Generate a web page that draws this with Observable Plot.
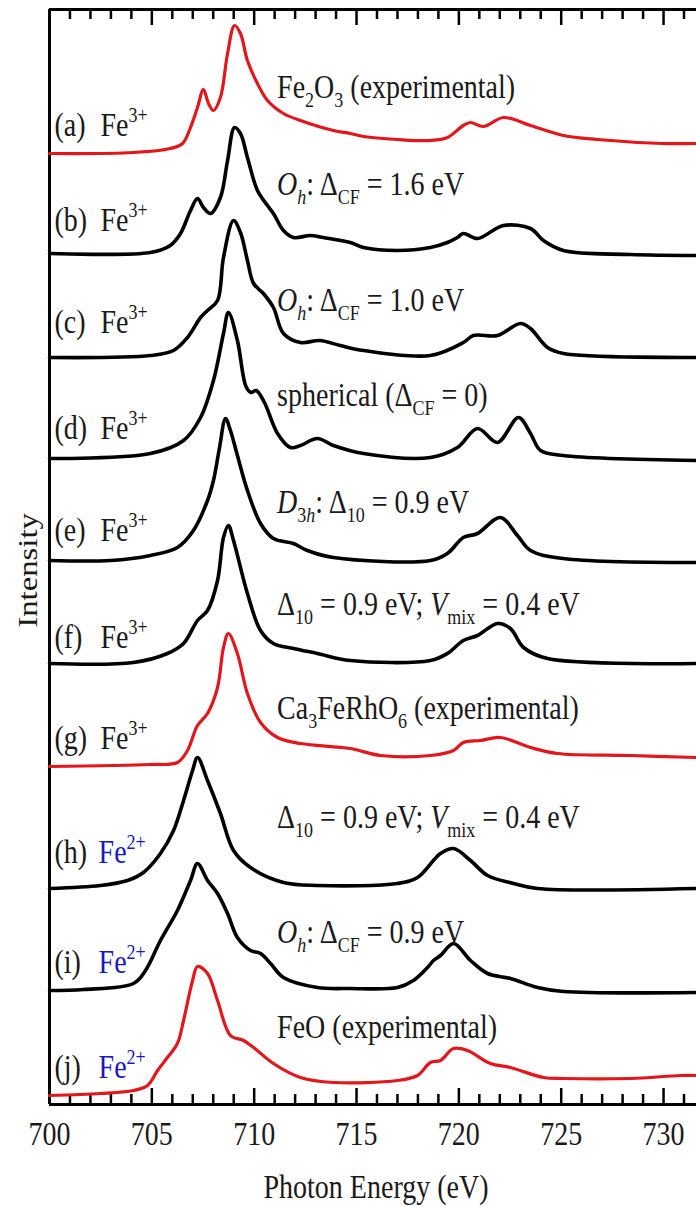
<!DOCTYPE html>
<html>
<head>
<meta charset="utf-8">
<script src="https://cdn.jsdelivr.net/npm/d3@7"></script>
<script src="https://cdn.jsdelivr.net/npm/@observablehq/plot@0.6"></script>
<style>
html, body { margin: 0; padding: 0; background: #fff; }
#chart svg { display: block; }
</style>
</head>
<body>
<div id="chart"></div>
<script>
// ---------- data (photon energy in eV, intensity relative to each baseline) ----------
const spectrumA = [[700,0],[704.1,0.01],[705.9,0.05],[706.5,0.10],[706.89,0.26],[707.23,0.46],[707.52,0.64],[707.77,0.50],[708.01,0.43],[708.35,0.56],[708.7,1.0],[709.04,1.28],[709.33,1.2],[709.67,0.93],[710.16,0.7],[710.65,0.53],[711.43,0.4],[712.26,0.33],[713.87,0.23],[714.7,0.2],[715.34,0.17],[717.0,0.14],[718.61,0.13],[719.44,0.16],[720.22,0.28],[720.57,0.31],[721.2,0.27],[722.18,0.36],[723.5,0.28],[725.11,0.18],[726.77,0.14],[729.99,0.1],[731.61,0.1]];
const spectrumB = [[700,0],[704.93,0.01],[705.9,0.08],[706.4,0.2],[706.89,0.43],[707.23,0.55],[707.52,0.46],[707.87,0.40],[708.35,0.56],[708.7,0.93],[709.04,1.26],[709.33,1.2],[709.67,0.96],[710.16,0.63],[710.65,0.48],[710.94,0.4],[711.43,0.23],[711.92,0.16],[712.75,0.18],[713.38,0.16],[714.7,0.11],[715.34,0.06],[717.0,0.03],[718.61,0.06],[719.44,0.11],[719.93,0.16],[720.22,0.2],[720.91,0.15],[722.18,0.28],[723.5,0.25],[724.13,0.13],[725.11,0.03],[728.38,-0.01],[731.61,-0.02]];
const spectrumC = [[700,0],[704.93,0.02],[706.06,0.07],[706.74,0.2],[707.38,0.4],[707.72,0.47],[708.21,0.57],[708.5,1.0],[708.99,1.37],[709.33,1.25],[709.67,0.97],[709.97,0.74],[710.45,0.64],[710.94,0.5],[711.43,0.24],[712.26,0.15],[713.2,0.17],[714.2,0.12],[715.34,0.07],[718.61,0.02],[720.22,0.15],[720.71,0.22],[721.89,0.22],[723.01,0.34],[723.5,0.29],[724.33,0.1],[725.11,0.04],[731.61,0]];
const spectrumD = [[700,0],[704.93,0.05],[706.55,0.18],[707.38,0.41],[708.01,0.78],[708.5,1.25],[708.74,1.46],[709.18,1.18],[709.6,0.72],[709.85,0.66],[710.1,0.68],[710.5,0.56],[711.14,0.25],[711.77,0.11],[712.26,0.13],[713.09,0.2],[713.87,0.13],[715.34,0.05],[718.61,0.01],[719.93,0.11],[720.91,0.3],[721.89,0.16],[722.91,0.41],[723.5,0.25],[723.99,0.08],[725.11,0.03],[731.61,-0.02]];
const spectrumE = [[700,0],[702.98,0],[704.93,0.05],[706.25,0.13],[707.03,0.3],[707.72,0.6],[708.01,0.8],[708.3,1.12],[708.6,1.42],[708.84,1.3],[709.18,1.05],[709.67,0.7],[710.31,0.37],[710.94,0.22],[711.92,0.17],[712.6,0.1],[713.87,0.03],[718.61,0],[719.44,0.07],[720.22,0.23],[720.91,0.27],[722.03,0.43],[722.86,0.25],[723.5,0.1],[725.11,0.02],[731.61,-0.02]];
const spectrumF = [[700,0],[704.1,0.01],[705.76,0.1],[706.55,0.2],[707.23,0.43],[707.72,0.53],[708.21,0.83],[708.5,1.26],[708.74,1.38],[708.99,1.23],[709.67,0.7],[710.31,0.33],[710.94,0.2],[711.92,0.15],[713.09,0.1],[714.7,0.03],[718.61,0.03],[719.44,0.1],[720.22,0.23],[720.91,0.28],[721.89,0.4],[722.52,0.35],[723.16,0.16],[724.33,0.05],[731.61,0]];
const spectrumG = [[700,0],[704.93,0.02],[706.25,0.04],[706.74,0.16],[707.23,0.41],[707.72,0.53],[708.21,0.79],[708.5,1.19],[708.74,1.33],[709.18,1.13],[709.67,0.73],[710.31,0.44],[711.14,0.29],[712.26,0.23],[714.7,0.18],[716.17,0.11],[718.61,0.11],[719.74,0.16],[720.22,0.24],[721.06,0.26],[722.03,0.29],[723.5,0.19],[724.82,0.13],[728.38,0.11],[731.61,0.09]];
const spectrumH = [[700,0],[702.49,0.03],[703.81,0.08],[704.59,0.16],[705.42,0.35],[706.06,0.58],[706.55,0.88],[706.99,1.18],[707.23,1.31],[707.72,1.08],[708.35,0.75],[708.99,0.38],[709.82,0.21],[711.43,0.06],[713.09,0.03],[717.0,0.05],[717.98,0.11],[719.1,0.35],[719.74,0.4],[720.57,0.28],[721.4,0.13],[722.67,0.05],[723.84,0],[731.61,0]];
const spectrumI = [[700,0],[701.66,0.01],[704.1,0.07],[704.69,0.2],[705.42,0.5],[706.25,0.8],[706.89,1.1],[707.23,1.27],[707.72,1.1],[708.21,0.97],[708.7,0.77],[709.18,0.53],[709.82,0.4],[710.31,0.37],[710.8,0.27],[711.43,0.13],[713.09,0.03],[714.7,0.02],[717.0,0.03],[717.78,0.1],[718.47,0.23],[718.76,0.3],[719.1,0.35],[719.74,0.47],[720.57,0.3],[721.4,0.17],[722.52,0.12],[723.84,0.03],[725.11,-0.01],[731.61,-0.02]];
const spectrumJ = [[700,0],[702.49,0.02],[704.1,0.05],[704.79,0.1],[705.28,0.25],[705.76,0.38],[706.25,0.52],[706.55,0.75],[706.99,1.15],[707.23,1.29],[707.72,1.22],[708.21,0.95],[708.84,0.6],[709.48,0.55],[709.97,0.48],[710.94,0.32],[712.26,0.18],[713.87,0.13],[717.0,0.15],[717.98,0.2],[718.61,0.33],[719.1,0.35],[719.74,0.47],[720.42,0.45],[721.54,0.32],[722.52,0.28],[724.13,0.18],[725.11,0.17],[728.38,0.17],[730.83,0.2],[731.61,0.2]];

const spectra = [spectrumA, spectrumB, spectrumC, spectrumD, spectrumE, spectrumF, spectrumG, spectrumH, spectrumI, spectrumJ];
// vertical offset of each spectrum (intensity units)
const offsets = [9.51, 8.51, 7.47, 6.46, 5.44, 4.41, 3.38, 2.16, 1.14, 0.09];
const experimental = [true, false, false, false, false, false, true, false, false, true];
const letters = ["(a)", "(b)", "(c)", "(d)", "(e)", "(f)", "(g)", "(h)", "(i)", "(j)"];
const ions = ["3+", "3+", "3+", "3+", "3+", "3+", "3+", "2+", "2+", "2+"];
const notes = [
  "Fe_{2}O_{3} (experimental)",
  "*O*_{*h*}:\u2009Δ_{CF} = 1.6 eV",
  "*O*_{*h*}:\u2009Δ_{CF} = 1.0 eV",
  "spherical (Δ_{CF} = 0)",
  "*D*_{3*h*}:\u2009Δ_{10} = 0.9 eV",
  "Δ_{10} = 0.9 eV; *V*_{mix} = 0.4 eV",
  "Ca_{3}FeRhO_{6} (experimental)",
  "Δ_{10} = 0.9 eV; *V*_{mix} = 0.4 eV",
  "*O*_{*h*}:\u2009Δ_{CF} = 0.9 eV",
  "FeO (experimental)"
];
// label heights above each baseline (intensity units)
const tagLevel = [0.28, 0.33, 0.35, 0.30, 0.30, 0.26, 0.28, 0.36, 0.28, 0.28];
const noteLevel = [0.66, 0.69, 0.57, 0.63, 0.58, 0.59, 0.58, 0.71, 0.58, 0.68];
const majorTicks = [700, 705, 710, 715, 720, 725, 730];
const minorTicks = d3.range(700, 732, 1);
const xLabel = "Photon Energy (eV)";
const yLabel = "Intensity";

// ---------- layout ----------
const W = 696, H = 1207;
const MT = 9, MB = 103, ML = 49, MR = 0;
const X_DOMAIN = [700, 731.61];
const Y_MAX = 10.95;
const unitPerPx = Y_MAX / (H - MT - MB);
const RED = "#e3161b", BLACK = "#000000", BLUE = "#1818c0", TEXT = "#1a1a1a";
const FONT = "'Liberation Serif', 'Times New Roman', Times, serif";
const FS = 28;

const marks = [];
// frame (top, bottom, left)
marks.push(Plot.ruleY([0, Y_MAX], {stroke: BLACK, strokeWidth: 3}));
marks.push(Plot.ruleX([700], {stroke: BLACK, strokeWidth: 3}));
// inward ticks
const tick = (vals, len) => [
  Plot.ruleX(vals, {x: d => d, y1: 0, y2: len * unitPerPx, stroke: BLACK, strokeWidth: 2.5}),
  Plot.ruleX(vals, {x: d => d, y1: Y_MAX, y2: Y_MAX - len * unitPerPx, stroke: BLACK, strokeWidth: 2.5})
];
marks.push(...tick(minorTicks.filter(d => d % 5 !== 0), 10));
marks.push(...tick(majorTicks, 16));

// spectra
spectra.forEach((s, k) => {
  marks.push(Plot.line(s, {
    x: d => d[0], y: d => offsets[k] + d[1],
    stroke: experimental[k] ? RED : BLACK,
    strokeWidth: experimental[k] ? 3.2 : 3.6,
    strokeLinejoin: "round", strokeLinecap: "round",
    curve: "catmull-rom"
  }));
});

const idx = d3.range(spectra.length);
// letter tags
marks.push(Plot.text(idx, {x: () => 700.24, y: k => offsets[k] + tagLevel[k], text: k => letters[k],
  textAnchor: "start", fontSize: FS, fill: TEXT}));
// ion tags
marks.push(Plot.text(idx.filter(k => ions[k] === "3+"), {x: () => 702.49, y: k => offsets[k] + tagLevel[k],
  text: k => "Fe^{" + ions[k] + "}", textAnchor: "start", fontSize: FS, fill: TEXT}));
marks.push(Plot.text(idx.filter(k => ions[k] === "2+"), {x: () => 702.4, y: k => offsets[k] + tagLevel[k],
  text: k => "Fe^{" + ions[k] + "}", textAnchor: "start", fontSize: FS, fill: BLUE}));
// notes
marks.push(Plot.text(idx, {x: () => 711.12, y: k => offsets[k] + noteLevel[k], text: k => notes[k],
  textAnchor: "start", fontSize: FS, fill: TEXT}));
// tick labels
marks.push(Plot.text(majorTicks, {x: d => d, text: d => String(d), frameAnchor: "bottom", dy: 29,
  fontSize: FS, fill: TEXT}));
// axis titles
marks.push(Plot.text([xLabel], {text: d => d, frameAnchor: "bottom", dy: 83, dx: 4, fontSize: FS, fill: TEXT}));
marks.push(Plot.text([yLabel], {text: d => d, frameAnchor: "left", rotate: -90, dx: -21, dy: 14, fontSize: FS, fill: TEXT}));

const svg = Plot.plot({
  width: W, height: H,
  marginLeft: ML, marginRight: MR, marginTop: MT, marginBottom: MB,
  x: {domain: X_DOMAIN, axis: null},
  y: {domain: [0, Y_MAX], axis: null},
  style: {fontFamily: FONT, fontSize: FS + "px", background: "#fff", color: TEXT, overflow: "hidden"},
  marks
});
document.getElementById("chart").appendChild(svg);

// ---------- rich text (sub/superscripts, italics) and vertical glyph stretch ----------
function parseRich(src) {
  const segs = []; let italic = false, mode = "normal", buf = "";
  const flush = () => { if (buf) segs.push({text: buf, italic, mode}); buf = ""; };
  for (let i = 0; i < src.length; i++) {
    const c = src[i];
    if ((c === "_" || c === "^") && src[i + 1] === "{") { flush(); mode = c === "_" ? "sub" : "sup"; i++; continue; }
    if (c === "}" && mode !== "normal") { flush(); mode = "normal"; continue; }
    if (c === "*") { flush(); italic = !italic; continue; }
    buf += c;
  }
  flush();
  return segs;
}
const NS = "http://www.w3.org/2000/svg";
const SUB = 8, SUP = 12, SCRIPT = 18, STRETCH = 1.17;
d3.select(svg).selectAll("text").each(function () {
  const el = this;
  const src = el.textContent;
  if (/[_^*]/.test(src)) {
    const segs = parseRich(src);
    while (el.firstChild) el.removeChild(el.firstChild);
    let cur = 0;
    for (const s of segs) {
      const t = document.createElementNS(NS, "tspan");
      const target = s.mode === "sub" ? SUB : s.mode === "sup" ? -SUP : 0;
      if (target !== cur) { t.setAttribute("dy", target - cur); cur = target; }
      if (s.mode !== "normal") t.setAttribute("font-size", SCRIPT);
      if (s.italic) t.setAttribute("font-style", "italic");
      t.textContent = s.text;
      el.appendChild(t);
    }
  }
  const tr = el.getAttribute("transform");
  if (tr) {
    el.setAttribute("transform", tr + (tr.includes("rotate") ? ` scale(${STRETCH},1)` : ` scale(1,${STRETCH})`));
  } else {
    const y = +el.getAttribute("y") || 0;
    el.setAttribute("transform", `translate(0,${y}) scale(1,${STRETCH}) translate(0,${-y})`);
  }
});

// ---------- snap axis texts to their intended centres ----------
const svgBox = svg.getBoundingClientRect();
function snap(el, cx, cy) {
  const r = el.getBoundingClientRect();
  const dx = cx == null ? 0 : cx - (r.left + r.width / 2 - svgBox.left);
  const dy = cy == null ? 0 : cy - (r.top + r.height / 2 - svgBox.top);
  el.setAttribute("transform", `translate(${dx},${dy}) ` + (el.getAttribute("transform") || ""));
}
d3.select(svg).selectAll("text").each(function () {
  const s = this.textContent;
  if (s === yLabel) snap(this, 28, 570);
  else if (s === xLabel) snap(this, 376, 1187);
  else if (/^7\d\d$/.test(s)) snap(this, null, 1134);
});
</script>
</body>
</html>
